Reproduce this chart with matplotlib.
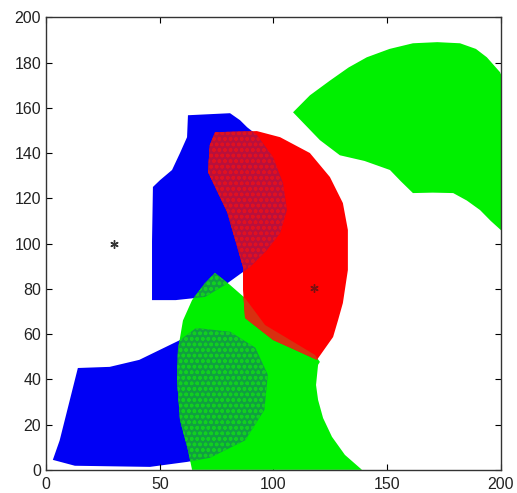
import matplotlib.pyplot as plt
from matplotlib.patches import Polygon

# region outlines (data units)
blue_top_x = [62.4, 80.9, 85.3, 88.4, 92.7, 99.8, 104.2, 105.9, 102.9, 97.1, 89.7, 85.3, 78.7, 69.9, 57, 46.6, 46.6, 47, 50.1, 55.4, 58.9, 62]
blue_top_y = [156.7, 157.6, 154.5, 151.4, 148, 138.2, 126.7, 114.8, 104.6, 97.1, 89.6, 86.5, 81.7, 76.4, 75, 75, 101, 125, 128, 132.5, 140, 147]

blue_low_x = [3, 6, 10.5, 14, 28, 41, 59, 66, 81, 92, 97.5, 96, 87.5, 72, 62, 45.7, 12.7]
blue_low_y = [4.4, 13, 31, 45, 45.5, 48.6, 57.4, 62.7, 61, 54, 42, 26.5, 13, 5.3, 3.5, 1.3, 1.8]

red_x = [74.3, 92.7, 102.9, 116, 124.8, 130.5, 132.7, 132.7, 130.5, 128.4, 126.2, 119.1, 109.5, 99.8, 87.5, 86.6, 86.6, 79.6, 71.2, 72]
red_y = [149.2, 149.7, 147, 140, 129.4, 117.9, 106, 88.3, 73.7, 66.2, 58.7, 48.6, 53, 57.4, 67.1, 79.5, 89.6, 114, 131.6, 143.5]

green_low_x = [74.3, 70, 64.2, 60.2, 58, 57.6, 58.9, 62.4, 64.2, 138.9, 131.4, 125.7, 121.8, 119.6, 118.7, 119.6, 120.4, 118.2, 107.3, 96.3, 87.5, 80.9]
green_low_y = [87, 82.6, 75, 66, 53, 39.7, 22, 8.8, 0, 0, 6.6, 14.6, 22.9, 30.9, 37.5, 46.4, 47.7, 50.8, 57.4, 64, 75.9, 81.7]

green_top_x = [108.6, 116, 124.8, 133, 141, 151, 161.3, 172, 182, 189, 193.8, 199.6, 205, 205, 201, 195.5, 190.8, 185, 179, 170, 161.3, 156, 151.2, 140, 129.2, 120.4]
green_top_y = [158, 165.5, 172, 177.8, 182.3, 186, 188.5, 189, 188.5, 186, 182.3, 175.7, 163, 106, 105, 110, 114.8, 119, 122.3, 122.5, 122.3, 127.5, 132.5, 136.5, 139, 145.7]

star_x = [30, 118]
star_y = [100, 80.5]
star_colors = ["#333333", "#7a1010"]

BLUE = "#0000f5"
RED = "#ff0000"
GREEN = "#00f000"

fig = plt.figure(figsize=(5.17, 4.93), dpi=100)
ax = fig.add_axes([0.089, 0.047, 0.880, 0.918])


def poly(xs, ys, color, z, hatch=None):
    if hatch:
        p = Polygon(list(zip(xs, ys)), closed=True, facecolor="none", edgecolor=color,
                    hatch=hatch, linewidth=0, zorder=z)
    else:
        p = Polygon(list(zip(xs, ys)), closed=True, facecolor=color, edgecolor="none", zorder=z)
    ax.add_patch(p)
    return p


poly(blue_top_x, blue_top_y, BLUE, 1)
poly(blue_low_x, blue_low_y, BLUE, 1)
g_low = poly(green_low_x, green_low_y, GREEN, 2)
poly(green_top_x, green_top_y, GREEN, 2)
red = poly(red_x, red_y, RED, 3)

# overlaps: dotted, darker blend
poly(blue_top_x, blue_top_y, "#b8103c", 4).set_clip_path(red)
poly(blue_top_x, blue_top_y, "#e01020", 5, hatch="ooo").set_clip_path(red)

poly(blue_top_x, blue_top_y, "#10a040", 4).set_clip_path(g_low)
poly(blue_top_x, blue_top_y, "#10d020", 5, hatch="ooo").set_clip_path(g_low)

poly(blue_low_x, blue_low_y, "#10a040", 4).set_clip_path(g_low)
poly(blue_low_x, blue_low_y, "#10d020", 5, hatch="ooo").set_clip_path(g_low)

poly(green_low_x, green_low_y, "#d83010", 4).set_clip_path(red)

for x, y, c in zip(star_x, star_y, star_colors):
    ax.plot(x, y, marker=(6, 2, 0), markersize=6, color=c, markeredgewidth=1, zorder=6)

ax.set_xlim(0, 200)
ax.set_ylim(0, 200)
ax.set_xticks([0, 50, 100, 150, 200])
ax.set_yticks(range(0, 201, 20))
ax.tick_params(direction="in", top=True, right=True, length=4, labelsize=11.5)
ax.tick_params(axis="x", pad=5)
for lab in ax.get_xticklabels() + ax.get_yticklabels():
    lab.set_fontfamily("Liberation Sans")
    lab.set_color("#222222")
for s in ax.spines.values():
    s.set_linewidth(1.0)
    s.set_color("#333333")

fig.savefig("out.png", dpi=100)
